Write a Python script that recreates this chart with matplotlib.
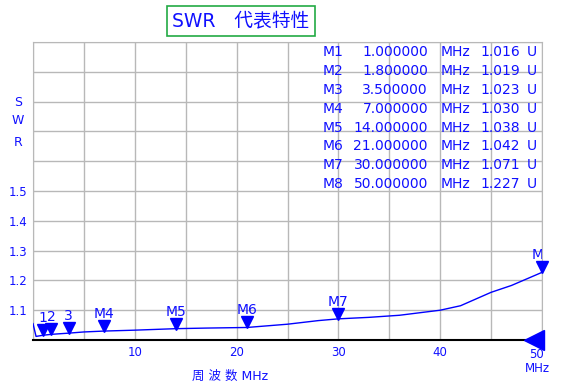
import matplotlib.pyplot as plt
import matplotlib.transforms as mtransforms

plt.rcParams['font.family'] = ['DejaVu Sans', 'Noto Sans CJK SC']

# SWR curve
freq = [0, 0.3, 1, 1.8, 3.5, 5, 7, 10, 14, 17, 21, 25, 28, 30, 33, 36, 40, 42, 45, 47, 50]
swr = [1.055, 1.012, 1.016, 1.019, 1.023, 1.027, 1.030, 1.033, 1.038, 1.040, 1.042,
       1.053, 1.065, 1.071, 1.076, 1.083, 1.100, 1.115, 1.160, 1.183, 1.227]

# markers
mk_names = ['M1', 'M2', 'M3', 'M4', 'M5', 'M6', 'M7', 'M8']
mk_labels = ['1', '2', '3', 'M4', 'M5', 'M6', 'M7', 'M8']
mk_freq = [1.0, 1.8, 3.5, 7.0, 14.0, 21.0, 30.0, 50.0]
mk_swr = [1.016, 1.019, 1.023, 1.030, 1.038, 1.042, 1.071, 1.227]

blue = '#1010ff'

fig = plt.figure(figsize=(5.64, 3.91), dpi=100)
ax = fig.add_axes([33 / 564, 1 - 340 / 391, 509 / 564, 298 / 391])

ax.plot(freq, swr, color='#0000ff', lw=1, zorder=3)

tri = mtransforms.offset_copy(ax.transData, fig=fig, x=0, y=5, units='dots')
ax.plot(mk_freq, mk_swr, 'v', color='#0000ff', ms=9, transform=tri, zorder=4, clip_on=False)
for lab, f, s in zip(mk_labels, mk_freq, mk_swr):
    lt = mtransforms.offset_copy(ax.transData, fig=fig, x=0, y=10, units='dots')
    ax.text(f, s, lab, transform=lt, ha='center', va='bottom', color=blue, fontsize=10,
            clip_on=True, zorder=5)

# big marker on x axis at right end
rt = mtransforms.offset_copy(ax.transData, fig=fig, x=-8, y=0, units='dots')
ax.plot([50], [1.0], '<', color='#0000ff', ms=14, transform=rt, clip_on=False, zorder=6)

ax.set_xlim(0, 50)
ax.set_ylim(1.0, 2.0)
ax.set_xticks([0, 5, 10, 15, 20, 25, 30, 35, 40, 45, 50])
ax.set_xticklabels(['', '', '10', '', '20', '', '30', '', '40', '', ''])
ax.set_yticks([1.0, 1.1, 1.2, 1.3, 1.4, 1.5, 1.6, 1.7, 1.8, 1.9, 2.0])
ax.set_yticklabels(['', '1.1', '1.2', '1.3', '1.4', '1.5', '', '', '', '', ''])
ax.tick_params(length=0, labelsize=8.5, labelcolor=blue, pad=4)
ax.grid(True, color='#b8b8b8', lw=1)
for side in ['top', 'left', 'right']:
    ax.spines[side].set_color('#b8b8b8')
ax.spines['bottom'].set_color('black')
ax.spines['bottom'].set_linewidth(1.5)
ax.set_axisbelow(True)

# marker table
for i in range(len(mk_names)):
    y = 1 - (52 + i * 18.9) / 391
    fig.text(323 / 564, y, mk_names[i], color=blue, fontsize=10, va='center')
    fig.text(428 / 564, y, '%.6f' % mk_freq[i], color=blue, fontsize=10, va='center', ha='right')
    fig.text(441 / 564, y, 'MHz', color=blue, fontsize=10, va='center')
    fig.text(480 / 564, y, '%.3f' % mk_swr[i], color=blue, fontsize=10, va='center')
    fig.text(527 / 564, y, 'U', color=blue, fontsize=10, va='center')

# title box
fig.text(241 / 564, 1 - 21 / 391, 'SWR\u3000代表特性', color=blue, fontsize=13.5,
         ha='center', va='center',
         bbox=dict(boxstyle='square,pad=0.3', fc='white', ec='#22aa44', lw=1.2))

# axis labels
for ch, yy in zip(['S', 'W', 'R'], [103, 120, 143]):
    fig.text(18 / 564, 1 - yy / 391, ch, color=blue, fontsize=9, ha='center', va='center')
fig.text(230 / 564, 1 - 376 / 391, '周 波 数 MHz', color=blue, fontsize=9, ha='center', va='center')
fig.text(537 / 564, 1 - 355 / 391, '50', color=blue, fontsize=8.5, ha='center', va='center')
fig.text(537 / 564, 1 - 369 / 391, 'MHz', color=blue, fontsize=8.5, ha='center', va='center')

fig.savefig('out.png', dpi=100)
